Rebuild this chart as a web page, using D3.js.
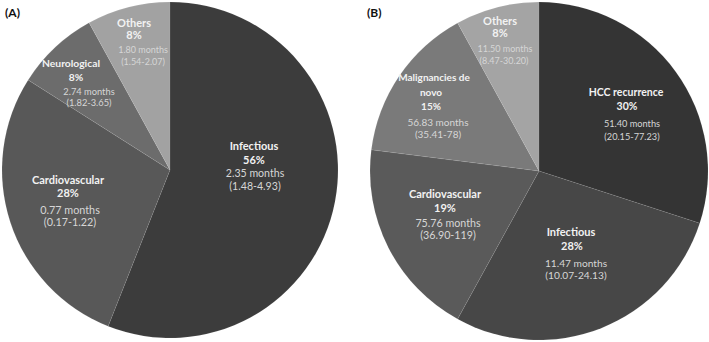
<!DOCTYPE html>
<html><head><meta charset="utf-8">
<script src="https://cdn.jsdelivr.net/npm/d3@7"></script>
<style>
html,body{margin:0;padding:0;background:#fff;}
svg{display:block;}
text{font-family:Lato,"Open Sans",sans-serif;}
</style></head>
<body>
<svg id="chart" width="709" height="342"></svg>
<script>
// ---- Data ----
const panelTitles = ["(A)", "(B)"];

const categoriesA = ["Infectious", "Cardiovascular", "Neurological", "Others"];
const percentA    = [56, 28, 8, 8];
const monthsA     = ["2.35 months", "0.77 months", "2.74 months", "1.80 months"];
const rangeA      = ["(1.48-4.93)", "(0.17-1.22)", "(1.82-3.65)", "(1.54-2.07)"];

const categoriesB = ["HCC recurrence", "Infectious", "Cardiovascular", "Malignancies de novo", "Others"];
const percentB    = [30, 28, 19, 15, 8];
const monthsB     = ["51.40 months", "11.47 months", "75.76 months", "56.83 months", "11.50 months"];
const rangeB      = ["(20.15-77.23)", "(10.07-24.13)", "(36.90-119)", "(35.41-78)", "(8.47-30.20)"];

// ---- Styles / layout (not data) ----
const colorsA = ["#3c3c3c", "#585858", "#6c6c6c", "#a2a2a2"];
const colorsB = ["#343434", "#474747", "#5a5a5a", "#7a7a7a", "#a4a4a4"];
// label anchors relative to pie centre: name, pct, months, range; font sizes
const labelLayoutA = [
  {name: [84, -20], pct: [84, -6], mon: [85, 7], rng: [85, 20], fb: 11, fs: 10.6},
  {name: [-102, 14], pct: [-102, 27], mon: [-100, 44], rng: [-100, 56], fb: 11, fs: 10.8},
  {name: [-99, -103], pct: [-94, -89], mon: [-81, -75], rng: [-81, -64], fb: 10.3, fs: 9.3},
  {name: [-36, -143], pct: [-36, -131], mon: [-27, -117], rng: [-27, -105], fb: 11, fs: 9}
];
const labelLayoutB = [
  {name: [87, -75], pct: [88, -61], mon: [93, -44], rng: [93, -31], fb: 10.5, fs: 9.2},
  {name: [32, 65], pct: [33, 79], mon: [37, 96], rng: [37, 108], fb: 11, fs: 10.2},
  {name: [-94, 27], pct: [-94, 41], mon: [-91, 56], rng: [-91, 68], fb: 11, fs: 10.7},
  {name: [-105, -90], pct: [-108, -61], mon: [-101, -45], rng: [-101, -33], fb: 10, fs: 10},
  {name: [-39, -146], pct: [-39, -134], mon: [-34, -119], rng: [-35, -107], fb: 11, fs: 9}
];

const svg = d3.select("#chart");

function drawPie(cx, cy, r, cats, pct, months, ranges, colors, layout, title, titleX) {
  const g = svg.append("g").attr("transform", `translate(${cx},${cy})`);
  const pie = d3.pie().sort(null).value(d => d);
  const arcs = pie(pct);
  const arc = d3.arc().innerRadius(0).outerRadius(r);
  const color = d3.scaleOrdinal().domain(cats).range(colors);
  g.selectAll("path").data(arcs).enter().append("path")
    .attr("d", arc)
    .attr("fill", (d, i) => color(cats[i]))
    .attr("stroke", "rgba(255,255,255,0.12)")
    .attr("stroke-width", 0.6);

  arcs.forEach((a, i) => {
    const L = layout[i];
    const nameLines = cats[i] === "Malignancies de novo" ? ["Malignancies de", "novo"] : [cats[i]];
    nameLines.forEach((s, k) => {
      g.append("text").attr("x", L.name[0] - (k ? 3 : 0)).attr("y", L.name[1] + k * 15)
        .attr("text-anchor", "middle")
        .attr("font-size", L.fb).attr("font-weight", "bold").attr("fill", "#f2f2f2").text(s);
    });
    g.append("text").attr("x", L.pct[0]).attr("y", L.pct[1]).attr("text-anchor", "middle")
      .attr("font-size", L.fb).attr("font-weight", "bold").attr("fill", "#f2f2f2").text(pct[i] + "%");
    g.append("text").attr("x", L.mon[0]).attr("y", L.mon[1]).attr("text-anchor", "middle")
      .attr("font-size", L.fs).attr("fill", "#d6d6d6").text(months[i]);
    g.append("text").attr("x", L.rng[0]).attr("y", L.rng[1]).attr("text-anchor", "middle")
      .attr("font-size", L.fs).attr("fill", "#d6d6d6").text(ranges[i]);
  });

  svg.append("text").attr("x", titleX).attr("y", 17)
    .attr("font-size", 12).attr("font-weight", "bold").attr("fill", "#111")
    .attr("font-family", "Liberation Sans, Arial, sans-serif").text(title);
}

drawPie(170, 170, 168, categoriesA, percentA, monthsA, rangeA, colorsA, labelLayoutA, panelTitles[0], 5);
drawPie(539, 171, 169, categoriesB, percentB, monthsB, rangeB, colorsB, labelLayoutB, panelTitles[1], 367);
</script>
</body></html>
